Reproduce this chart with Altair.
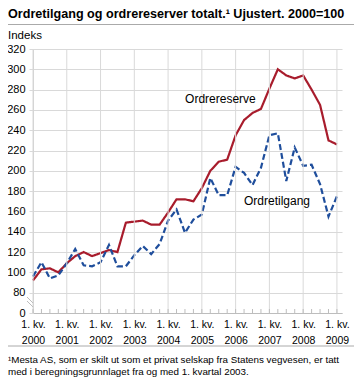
import altair as alt
import pandas as pd

# ---- data ----
quarters = list(range(37))  # 0 = 1. kv. 2000 ... 36 = 1. kv. 2009
ordrereserve = [92, 103, 104, 100, 109, 116, 120, 116, 119, 122, 120, 149,
                150, 151, 147, 147, 159, 172, 172, 170, 183, 200, 209, 211,
                235, 250, 257, 261, 281, 300, 294, 291, 294, 280, 265, 230, 226]
ordretilgang = [96, 110, 94, 97, 109, 123, 107, 106, 110, 127, 106, 106,
                117, 126, 118, 128, 151, 162, 139, 152, 157, 193, 176, 176,
                204, 198, 186, 203, 235, 237, 190, 223, 205, 206, 187, 155, 175]
years = list(range(2000, 2010))
y_ticks = [60, 80, 100, 120, 140, 160, 180, 200, 220, 240, 260, 280, 300, 320]
series_names = ["Ordrereserve", "Ordretilgang"]
label_q = [22.2, 28.9]
label_v = [270.7, 170.3]

title_text = "Ordretilgang og ordrereserver totalt.\u00b9 Ujustert. 2000=100"
unit_text = "Indeks"
foot_lines = ["\u00b9Mesta AS, som er skilt ut som et privat selskap fra Statens vegvesen, er tatt",
              "med i beregningsgrunnlaget fra og med 1. kvartal 2003."]

RED = "#a81c2c"
BLUE = "#1f4e9c"
GRID = "#d9d9d9"
FONT = "Liberation Sans"
W, H = 309, 264

df = pd.DataFrame({
    "q": quarters * 2,
    "v": ordrereserve + ordretilgang,
    "s": [series_names[0]] * len(quarters) + [series_names[1]] * len(quarters),
})
year_df = pd.DataFrame({"q": [(y - 2000) * 4 for y in years]})
q_df = pd.DataFrame({"q": quarters})
lab_df = pd.DataFrame({"q": label_q, "v": label_v, "s": series_names})

xscale = alt.Scale(domain=[0, 36.6], nice=False, zero=False)
yscale = alt.Scale(domain=[60, 320], nice=False, zero=False)

x_axis = alt.Axis(values=[(y - 2000) * 4 for y in years], grid=False, ticks=False,
                  labelExpr="['1. kv.', '' + (2000 + datum.value / 4)]",
                  labelOverlap=False, labelFlush=False, labelFont=FONT,
                  labelFontSize=10.5, labelColor="#000", labelLineHeight=16,
                  labelPadding=6, domainColor="#bdbdbd")
y_axis = alt.Axis(values=y_ticks, grid=True, gridColor=GRID, tickColor=GRID,
                  tickSize=4, labelExpr="datum.value == 60 ? '0' : datum.value",
                  labelOverlap=False, labelFlush=False,
                  labelFont=FONT, labelFontSize=11, labelColor="#000",
                  labelPadding=4, domainColor="#d0d0d0")

X = alt.X("q:Q", scale=xscale, title=None, axis=x_axis)
Y = alt.Y("v:Q", scale=yscale, title=None, axis=y_axis)

lines = alt.Chart(df).mark_line(strokeWidth=2.2).encode(
    x=X, y=Y,
    color=alt.Color("s:N", scale=alt.Scale(domain=series_names, range=[RED, BLUE]), legend=None),
    strokeDash=alt.StrokeDash("s:N", scale=alt.Scale(domain=series_names, range=[[1, 0], [6, 3]]),
                              legend=None),
)

vgrid = alt.Chart(year_df).mark_rule(color=GRID, strokeWidth=1).encode(
    x=X, y=alt.value(0), y2=alt.value(H))

qticks = alt.Chart(q_df).mark_rule(color="#bdbdbd", strokeWidth=1).encode(
    x=X, y=alt.value(H - 4), y2=alt.value(H))

labels = alt.Chart(lab_df).mark_text(font=FONT, fontSize=12, color="#000").encode(
    x=X, y=Y, text="s:N")

def text_at(t, x, y, size, weight="normal"):
    return alt.Chart(pd.DataFrame({"t": [t]})).mark_text(
        font=FONT, fontSize=size, fontWeight=weight, align="left", baseline="alphabetic",
        color="#000").encode(text="t:N", x=alt.value(x), y=alt.value(y))

title = text_at(title_text, -25, -31.5, 12.6, "bold")
unit = text_at(unit_text, -25, -10.5, 11.5)
foot1 = text_at(foot_lines[0], -25, 313.5, 9.8)
foot2 = text_at(foot_lines[1], -25, 326, 9.8)

sep_df = pd.DataFrame({"k": [0]})
sep_top = alt.Chart(sep_df).mark_rule(color="#aaaaaa", strokeWidth=1).encode(
    x=alt.value(-25), x2=alt.value(W + 12), y=alt.value(-24.5))
sep_bot = alt.Chart(sep_df).mark_rule(color="#aaaaaa", strokeWidth=1).encode(
    x=alt.value(-25), x2=alt.value(W + 12), y=alt.value(297))

brk1 = alt.Chart(sep_df).mark_rule(color="#bdbdbd", strokeWidth=1).encode(
    x=alt.value(-6), x2=alt.value(0), y=alt.value(H - 16), y2=alt.value(H - 10))
brk2 = alt.Chart(sep_df).mark_rule(color="#bdbdbd", strokeWidth=1).encode(
    x=alt.value(-6), x2=alt.value(0), y=alt.value(H - 12), y2=alt.value(H - 6))

chart = alt.layer(lines, vgrid, qticks, labels, brk1, brk2, sep_top, sep_bot,
                  title, unit, foot1, foot2).properties(
    width=W, height=H,
    autosize=alt.AutoSizeParams(type="none"),
    padding={"left": 25, "top": 41, "right": 12, "bottom": 64},
).configure_view(stroke=None)

chart.save("out.html", embed_options={"renderer": "svg", "actions": False})
